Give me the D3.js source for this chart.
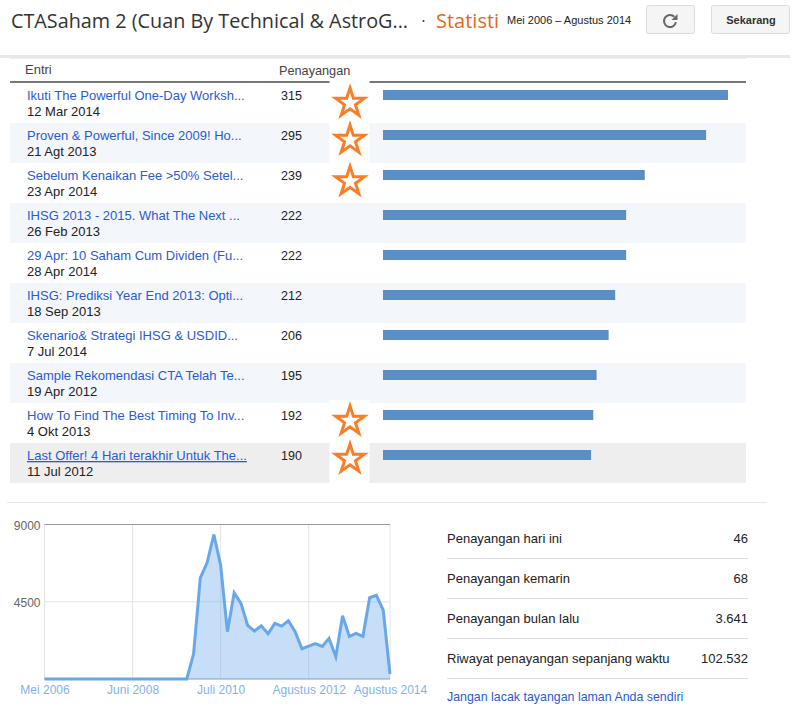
<!DOCTYPE html>
<html>
<head>
<meta charset="utf-8">
<script src="https://cdn.jsdelivr.net/npm/d3@7"></script>
<style>
  html, body { margin: 0; padding: 0; background: #fff; }
  svg { display: block; }
  text { font-family: "Liberation Sans", Arial, sans-serif; font-size: 13px; }
</style>
</head>
<body>
<div id="plot"></div>
<script>
// Top entries
const entries = [
  "Ikuti The Powerful One-Day Worksh...",
  "Proven & Powerful, Since 2009! Ho...",
  "Sebelum Kenaikan Fee >50% Setel...",
  "IHSG 2013 - 2015. What The Next ...",
  "29 Apr: 10 Saham Cum Dividen (Fu...",
  "IHSG: Prediksi Year End 2013: Opti...",
  "Skenario& Strategi IHSG & USDID...",
  "Sample Rekomendasi CTA Telah Te...",
  "How To Find The Best Timing To Inv...",
  "Last Offer! 4 Hari terakhir Untuk The..."
];
const entryDates = ["12 Mar 2014", "21 Agt 2013", "23 Apr 2014", "26 Feb 2013", "28 Apr 2014",
  "18 Sep 2013", "7 Jul 2014", "19 Apr 2012", "4 Okt 2013", "11 Jul 2012"];
const entryViews = [315, 295, 239, 222, 222, 212, 206, 195, 192, 190];
const starredRows = [0, 1, 2, 8, 9];

// Views history, one value per chart step
const historyViews = [
  0, 0, 0, 0, 0, 0, 0, 0, 0, 0, 0, 0, 0, 0, 0, 0, 0, 0, 0, 0, 0, 0,
  1455, 5897, 6769, 8418, 6634, 2754, 5024, 4403, 3103, 2793,
  3103, 2638, 3239, 3084, 3394, 2754, 1765, 1920, 2056, 1901,
  2366, 1300, 3685, 2483, 2657, 2483, 4733, 4868, 4015, 291
];
const historyTickSteps = [0, 13, 26, 39, 51];
const historyTickLabels = ["Mei 2006", "Juni 2008", "Juli 2010", "Agustus 2012", "Agustus 2014"];
const yTicks = [0, 4500, 9000];

const statLabels = ["Penayangan hari ini", "Penayangan kemarin", "Penayangan bulan lalu", "Riwayat penayangan sepanjang waktu"];
const statValues = ["46", "68", "3.641", "102.532"];

const svg = d3.select("#plot")
  .append("svg")
  .attr("width", 795)
  .attr("height", 719);

// Page header
svg.append("rect").attr("x", 0).attr("y", 55).attr("width", 790).attr("height", 3).attr("fill", "#e8e8e8");
svg.append("rect").attr("x", 10).attr("y", 58).attr("width", 736).attr("height", 1).attr("fill", "#eeeeee");

svg.append("text").attr("x", 11).attr("y", 28)
  .style("font-family", "'Open Sans'").style("font-size", "19.8px").attr("fill", "#333")
  .text("CTASaham 2 (Cuan By Technical & AstroG...");
svg.append("circle").attr("cx", 423.5).attr("cy", 21).attr("r", 1).attr("fill", "#333");
svg.append("text").attr("x", 436).attr("y", 28)
  .style("font-family", "'Open Sans'").style("font-size", "20px").attr("fill", "#e8661c")
  .text("Statisti");
svg.append("text").attr("x", 507).attr("y", 24)
  .style("font-size", "11px").attr("fill", "#222")
  .text("Mei 2006 – Agustus 2014");

const buttons = svg.append("g");
buttons.append("rect").attr("x", 646.5).attr("y", 5.5).attr("width", 48).attr("height", 28).attr("rx", 2)
  .attr("fill", "#f5f5f5").attr("stroke", "#dcdcdc");
buttons.append("rect").attr("x", 711.5).attr("y", 5.5).attr("width", 78).attr("height", 28).attr("rx", 2)
  .attr("fill", "#f5f5f5").attr("stroke", "#dcdcdc");
buttons.append("text").attr("x", 751).attr("y", 24).attr("text-anchor", "middle")
  .style("font-size", "11px").style("font-weight", "bold").attr("fill", "#333")
  .text("Sekarang");
// Refresh icon
const arc = d3.arc().innerRadius(5).outerRadius(7).startAngle(1.75).endAngle(2 * Math.PI + 0.8);
buttons.append("path").attr("transform", "translate(670,21)").attr("d", arc()).attr("fill", "#666");
buttons.append("path").attr("d", "M677.5 14v6h-6z").attr("fill", "#666");

// Table
const rowTop = 83;
const rowHeight = 40;
const rowScale = d3.scaleBand()
  .domain(d3.range(entries.length))
  .range([rowTop, rowTop + rowHeight * entries.length]);
const barScale = d3.scaleLinear()
  .domain([0, d3.max(entryViews)])
  .range([0, 345]);

svg.append("text").attr("x", 25).attr("y", 74).attr("fill", "#444").text("Entri");
svg.append("text").attr("x", 279).attr("y", 75).attr("fill", "#444").style("font-size", "12.7px").text("Penayangan");
svg.append("rect").attr("x", 10).attr("y", 81).attr("width", 736).attr("height", 2).attr("fill", "#777");

const rows = svg.selectAll(".row")
  .data(entries)
  .enter()
  .append("g")
  .attr("class", "row")
  .attr("transform", (d, i) => `translate(0,${rowScale(i)})`);

rows.append("rect")
  .attr("x", 10)
  .attr("width", 736)
  .attr("height", rowHeight)
  .attr("fill", (d, i) => i === entries.length - 1 ? "#eeeeee" : (i % 2 === 1 ? "#f3f6fb" : "#ffffff"));

rows.append("text")
  .attr("x", 27).attr("y", 17)
  .attr("fill", "#2a5bd7")
  .style("text-decoration", (d, i) => i === entries.length - 1 ? "underline" : null)
  .text(d => d);

rows.append("text")
  .attr("x", 27).attr("y", 33)
  .attr("fill", "#222")
  .text((d, i) => entryDates[i]);

rows.append("text")
  .attr("x", 281).attr("y", 17)
  .attr("fill", "#222")
  .style("font-size", "12.5px")
  .text((d, i) => entryViews[i]);

rows.append("rect")
  .attr("x", 383).attr("y", 7)
  .attr("width", (d, i) => barScale(entryViews[i]))
  .attr("height", 10)
  .attr("fill", "#5b8ec4");

// Hand drawn stars on white patches, they don't sit at the same height in each row
const starOffsets = [20, 17, 18.5, 18, 16];
const star = d3.symbol().type(d3.symbolStar).size(15 * 15 / 0.89);
const stars = svg.selectAll(".star")
  .data(starredRows)
  .enter()
  .append("g")
  .attr("class", "star")
  .attr("transform", d => `translate(0,${rowScale(d)})`);
stars.append("rect").attr("x", 329.5).attr("y", -3).attr("width", 40).attr("height", 43).attr("fill", "#fff");
stars.append("path")
  .attr("transform", (d, i) => `translate(350,${starOffsets[i]})`)
  .attr("d", star())
  .attr("fill", "none")
  .attr("stroke", "#fb7d26")
  .attr("stroke-width", 3);

// Separator
svg.append("rect").attr("x", 7).attr("y", 502).attr("width", 760).attr("height", 1).attr("fill", "#e8e8e8");

// History chart
const chart = { left: 44.5, right: 390, top: 524.5, bottom: 679 };
const x = d3.scaleLinear().domain([0, historyViews.length - 1]).range([chart.left, chart.right]);
const y = d3.scaleLinear().domain([0, 9000]).range([chart.bottom, chart.top]);

const grid = svg.append("g");
grid.selectAll(".v").data(historyTickSteps).enter().append("line")
  .attr("x1", d => x(d)).attr("x2", d => x(d))
  .attr("y1", chart.top).attr("y2", chart.bottom)
  .attr("stroke", "#e4e4e4");
grid.selectAll(".h").data(yTicks).enter().append("line")
  .attr("x1", chart.left).attr("x2", chart.right)
  .attr("y1", d => y(d)).attr("y2", d => y(d))
  .attr("stroke", d => d === 4500 ? "#e4e4e4" : "#999");

const area = d3.area().x((d, i) => x(i)).y0(chart.bottom).y1(d => y(d));
const line = d3.line().x((d, i) => x(i)).y(d => y(d));

svg.append("path").datum(historyViews).attr("d", area).attr("fill", "#6aa9e9").attr("fill-opacity", 0.38);
svg.append("path").datum(historyViews).attr("d", line).attr("fill", "none")
  .attr("stroke", "#68a8e8").attr("stroke-width", 3);

const xAxis = d3.axisBottom(x)
  .tickValues(historyTickSteps)
  .tickFormat((d, i) => historyTickLabels[i])
  .tickSize(0)
  .tickPadding(6);
const xAxisG = svg.append("g").attr("transform", `translate(0,${chart.bottom})`).call(xAxis);
xAxisG.select(".domain").remove();
xAxisG.selectAll("text").attr("fill", "#7fb3ec").style("font-size", "12px");

const yAxis = d3.axisLeft(y)
  .tickValues(yTicks.slice(1))
  .tickFormat(d3.format("d"))
  .tickSize(0)
  .tickPadding(4);
const yAxisG = svg.append("g").attr("transform", `translate(${chart.left},1)`).call(yAxis);
yAxisG.select(".domain").remove();
yAxisG.selectAll("text").attr("fill", "#666").style("font-size", "12px");

// Stats list
const stats = svg.selectAll(".stat")
  .data(statLabels)
  .enter()
  .append("g")
  .attr("class", "stat")
  .attr("transform", (d, i) => `translate(447,${518 + i * 40})`);
stats.append("text").attr("y", 25).attr("fill", "#222").text(d => d);
stats.append("text").attr("x", 301).attr("y", 25).attr("text-anchor", "end").attr("fill", "#222")
  .text((d, i) => statValues[i]);
stats.append("line").attr("x1", 0).attr("x2", 301).attr("y1", 40.5).attr("y2", 40.5).attr("stroke", "#dddddd");

svg.append("text").attr("x", 447).attr("y", 701).attr("fill", "#2a5bd7").style("font-size", "12.4px")
  .text("Jangan lacak tayangan laman Anda sendiri");
</script>
</body>
</html>
